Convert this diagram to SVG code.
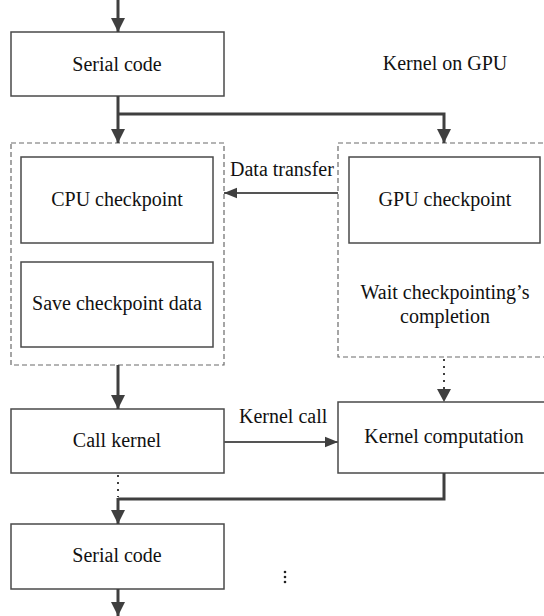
<svg xmlns="http://www.w3.org/2000/svg" width="544" height="616" viewBox="0 0 544 616">
  <defs>
    <marker id="head" viewBox="0 0 10 10" refX="10" refY="5" markerWidth="14" markerHeight="14" markerUnits="userSpaceOnUse" orient="auto">
      <path d="M0,0 L10,5 L0,10 Z" fill="#3f3f3f"/>
    </marker>
    <marker id="headThin" viewBox="0 0 10 10" refX="10" refY="5" markerWidth="13" markerHeight="13" markerUnits="userSpaceOnUse" orient="auto">
      <path d="M0,1 L10,5 L0,9 Z" fill="#3f3f3f"/>
    </marker>
  </defs>
  <style>
    .box { fill: none; stroke: #4a4a4a; stroke-width: 1.5; }
    .group { fill: none; stroke: #6a6a6a; stroke-width: 1.2; stroke-dasharray: 5 3; }
    .flow { fill: none; stroke: #3f3f3f; stroke-width: 3; }
    .thin { fill: none; stroke: #555555; stroke-width: 1.8; }
    .dots { fill: none; stroke: #3f3f3f; stroke-width: 2; stroke-dasharray: 2 5; }
    text { font-family: "Liberation Serif", "Times New Roman", serif; font-size: 20px; fill: #111; }
    .c { text-anchor: middle; }
  </style>
  <rect width="544" height="616" fill="#ffffff"/>

  <!-- dashed groups -->
  <g id="cpu-group">
    <rect class="group" x="11" y="143" width="213" height="222"/>
  </g>
  <g id="gpu-group">
    <rect class="group" x="338" y="143" width="210" height="214"/>
    <text class="c" x="445" y="299">Wait checkpointing’s</text>
    <text class="c" x="445" y="323">completion</text>
  </g>

  <g id="serial-top">
    <rect class="box" x="11" y="32" width="213" height="64"/>
    <text class="c" x="117" y="71">Serial code</text>
  </g>
  <g id="kernel-on-gpu">
    <text class="c" x="445" y="70">Kernel on GPU</text>
  </g>
  <g id="cpu-checkpoint">
    <rect class="box" x="21" y="157" width="192" height="86"/>
    <text class="c" x="117" y="206">CPU checkpoint</text>
  </g>
  <g id="save-checkpoint">
    <rect class="box" x="21" y="262" width="192" height="85"/>
    <text class="c" x="117" y="310">Save checkpoint data</text>
  </g>
  <g id="gpu-checkpoint">
    <rect class="box" x="349" y="157" width="191" height="86"/>
    <text class="c" x="445" y="206">GPU checkpoint</text>
  </g>
  <g id="call-kernel">
    <rect class="box" x="11" y="409" width="213" height="64"/>
    <text class="c" x="117" y="447">Call kernel</text>
  </g>
  <g id="kernel-computation">
    <rect class="box" x="338" y="402" width="210" height="71"/>
    <text class="c" x="444" y="443">Kernel computation</text>
  </g>
  <g id="serial-bottom">
    <rect class="box" x="11" y="524" width="213" height="65"/>
    <text class="c" x="117" y="562">Serial code</text>
  </g>
  <g id="ellipsis">
    <circle cx="285" cy="572" r="1.3" fill="#222"/>
    <circle cx="285" cy="577" r="1.3" fill="#222"/>
    <circle cx="285" cy="582" r="1.3" fill="#222"/>
  </g>

  <g id="connectors">
    <path class="flow" d="M118,0 V32" marker-end="url(#head)"/>
    <path class="flow" d="M118,96 V143" marker-end="url(#head)"/>
    <path class="flow" d="M118,114 H444 V143" marker-end="url(#head)"/>
    <path class="thin" d="M338,193 H224" marker-end="url(#headThin)"/>
    <text x="230" y="176">Data transfer</text>
    <path class="flow" d="M118,365 V409" marker-end="url(#head)"/>
    <path class="dots" d="M444,359 V392"/>
    <path d="M437,389 L444,402 L451,389 Z" fill="#3f3f3f"/>
    <path class="thin" d="M224,442 H338" marker-end="url(#headThin)"/>
    <text x="239" y="423">Kernel call</text>
    <path class="dots" d="M118,475 V497"/>
    <path class="flow" d="M444,473 V499 H118"/>
    <path class="flow" d="M118,498 V524" marker-end="url(#head)"/>
    <path class="flow" d="M118,589 V616" marker-end="url(#head)"/>
  </g>
</svg>
